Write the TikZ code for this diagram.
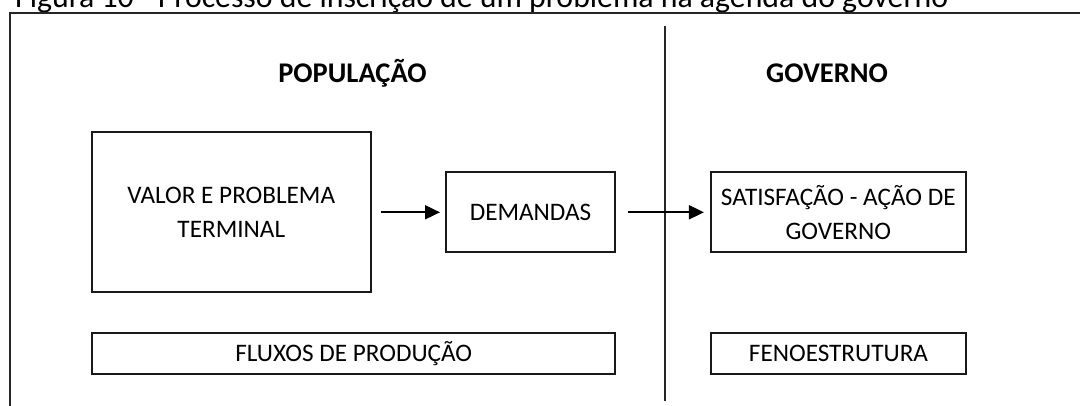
\documentclass[tikz,border=0pt]{standalone}
\usepackage{fontspec}
\setmainfont{Carlito}
\usetikzlibrary{arrows.meta}
\begin{document}
\begin{tikzpicture}[x=1pt,y=-1pt,
  box/.style={draw=black!90,line width=2pt,inner sep=2pt,align=center,font=\fontsize{25.2}{34}\selectfont},
  head/.style={font=\fontsize{28.5}{34}\selectfont\bfseries,anchor=base},
  arr/.style={line width=1.9pt,-{Triangle[length=15pt,width=14pt]}},
  rule/.style={line width=2pt,draw=black!85}]
\useasboundingbox (0,0) rectangle (1080,405);
\node[anchor=base west,inner sep=0pt,font=\fontsize{31.8}{36}\selectfont] (title) at (15,7) {Figura 10 - Processo de inscrição de um problema na agenda do governo};
\draw[rule] (10.3,420) -- (10.3,13) -- (1090,13);
\draw[rule] (664.5,25.8) -- (664.5,400.5);
\node[head] (pop) at (352.5,82.3) {POPULAÇÃO};
\node[head] (gov) at (827,82.3) {GOVERNO};
\node[box,minimum width=278.7pt,minimum height=160pt] (valor) at (231.3,212.3) {VALOR E PROBLEMA\\TERMINAL};
\node[box,minimum width=169pt,minimum height=80pt] (dem) at (530.5,212.3) {DEMANDAS};
\node[box,minimum width=255.3pt,minimum height=80pt] (sat) at (838.3,212.3) {SATISFAÇÃO - AÇÃO DE\\GOVERNO};
\node[box,minimum width=523.5pt,minimum height=41pt] (flux) at (353.7,353.4) {FLUXOS DE PRODUÇÃO};
\node[box,minimum width=255pt,minimum height=41pt] (feno) at (838.5,353.4) {FENOESTRUTURA};
\draw[arr,shorten <=9.3pt,shorten >=5pt] (valor) -- (dem);
\draw[arr,shorten <=11.7pt,shorten >=5.7pt] (dem) -- (sat);
\end{tikzpicture}
\end{document}
